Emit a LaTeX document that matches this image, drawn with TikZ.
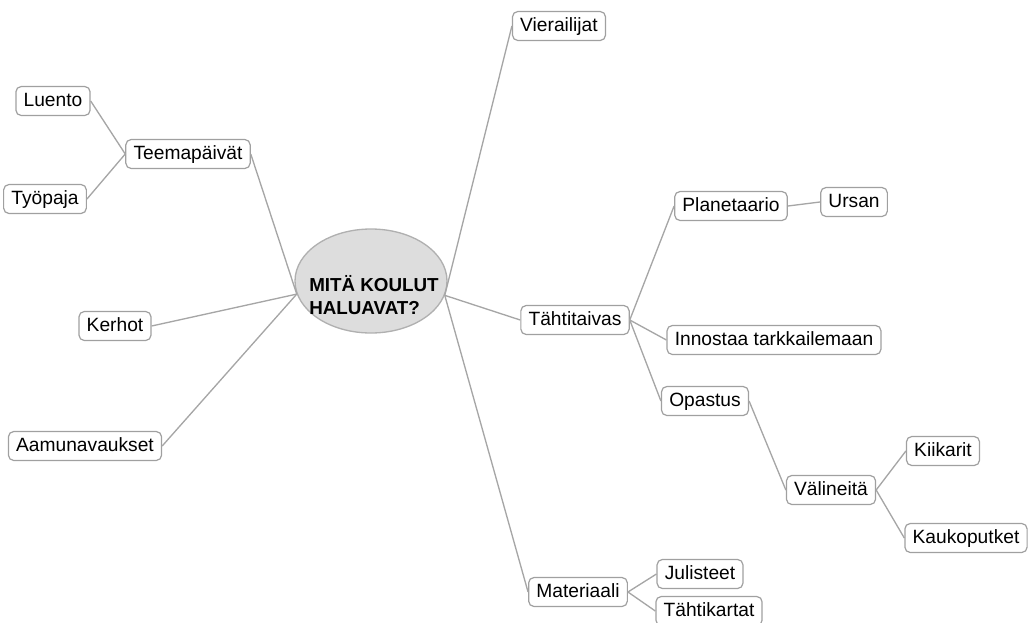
\documentclass[tikz,border=0pt]{standalone}
\usepackage{fontspec}
\setmainfont{Liberation Sans}
\usetikzlibrary{shapes.geometric}
\definecolor{linegray}{HTML}{A6A6A6}
\definecolor{boxgray}{HTML}{A0A0A0}
\definecolor{rootfill}{HTML}{DDDDDD}
\definecolor{rootdraw}{HTML}{B0B0B0}
\begin{document}
\begin{tikzpicture}[x=0.75pt,y=-0.75pt,
  box/.style={draw=boxgray, fill=white, rounded corners=4pt, line width=0.9pt,
    minimum height=21.75pt, inner xsep=5.8pt, inner ysep=0pt,
    text height=10.8pt, text depth=2.8pt, font=\fontsize{14.4}{16}\selectfont},
  link/.style={draw=linegray, line width=1pt},
  rootstyle/.style={ellipse, draw=rootdraw, fill=rootfill, line width=1pt,
    minimum width=114pt, minimum height=78pt, inner sep=0pt},
  roottext/.style={align=left, font=\fontsize{14.1}{17.3}\selectfont\bfseries, inner sep=0pt}]
\useasboundingbox (0,0) rectangle (1028,622);

\node[rootstyle] (root) at (371,281) {};
\node[roottext] (roottxt) at (374,295) {MITÄ KOULUT\\HALUAVAT?};

\node[box] (vier) at (559,26) {Vierailijat};
\node[box] (luento) at (53,101) {Luento};
\node[box] (teema) at (188,154) {Teemapäivät};
\node[box] (tyopaja) at (45,199) {Työpaja};
\node[box] (kerhot) at (115,326) {Kerhot};
\node[box] (aamu) at (85,446) {Aamunavaukset};
\node[box] (plan) at (731,206) {Planetaario};
\node[box] (ursan) at (854,202) {Ursan};
\node[box] (taivas) at (575,320) {Tähtitaivas};
\node[box] (innostaa) at (774,340) {Innostaa tarkkailemaan};
\node[box] (opastus) at (705,401) {Opastus};
\node[box] (valineita) at (831,490) {Välineitä};
\node[box] (kiikarit) at (943,451) {Kiikarit};
\node[box] (kauko) at (966,538) {Kaukoputket};
\node[box] (materiaali) at (578,592) {Materiaali};
\node[box] (julisteet) at (700,574) {Julisteet};
\node[box] (kartat) at (709,611) {Tähtikartat};

\draw[link] (root.190) -- (teema.east);
\draw[link] (root.190) -- (kerhot.east);
\draw[link] (root.190) -- (aamu.east);
\draw[link] (luento.east) -- (teema.west);
\draw[link] (tyopaja.east) -- (teema.west);
\draw[link] (root.-11) -- (vier.west);
\draw[link] (root.-11) -- (taivas.west);
\draw[link] (root.-11) -- (materiaali.west);
\draw[link] (taivas.east) -- (plan.west);
\draw[link] (taivas.east) -- (innostaa.west);
\draw[link] (taivas.east) -- (opastus.west);
\draw[link] (plan.east) -- (ursan.west);
\draw[link] (opastus.east) -- (valineita.west);
\draw[link] (valineita.east) -- (kiikarit.west);
\draw[link] (valineita.east) -- (kauko.west);
\draw[link] (materiaali.east) -- (julisteet.west);
\draw[link] (materiaali.east) -- (kartat.west);
\end{tikzpicture}
\end{document}
